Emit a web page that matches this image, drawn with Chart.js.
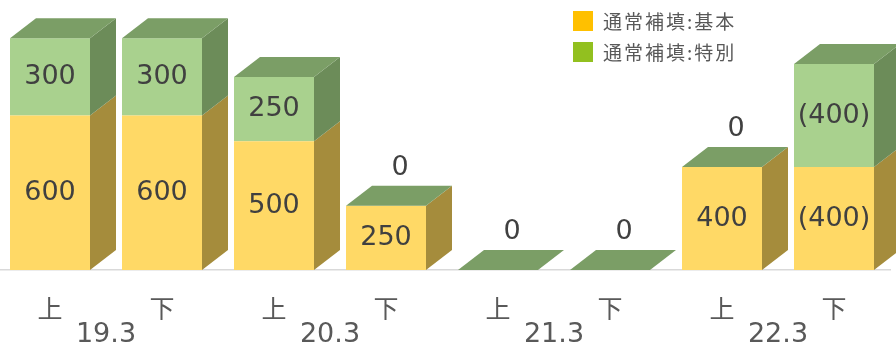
<!DOCTYPE html>
<html><head><meta charset="utf-8">
<script src="https://cdn.jsdelivr.net/npm/chart.js@4.4.0/dist/chart.umd.min.js"></script>
<style>
html,body{margin:0;padding:0;width:896px;height:347px;overflow:hidden;background:#fff;position:relative}
#wrap{position:absolute;left:-6px;top:0;width:908px;height:347px}
#legend{position:absolute;left:573px;top:5px;font-family:"Noto Sans CJK JP";font-size:19px;color:#595959;letter-spacing:2px}
.item{display:flex;align-items:center;height:31px}
.sw{width:20px;height:20px;margin-right:10px;flex:none}
</style></head><body>
<div id="wrap"><canvas id="c"></canvas></div>
<div id="legend"></div>
<script>
// ---- data ----
const periods = ['上','下','上','下','上','下','上','下'];
const years = ['19.3','20.3','21.3','22.3'];
const basicValues = [600,600,500,250,0,0,400,400];
const specialValues = [300,300,250,0,0,0,0,400];
const isProjected = [false,false,false,false,false,false,false,true];
const seriesNames = ['通常補填:基本','通常補填:特別'];
const legendColors = ['#FFC000','#92C01F'];
const frontColors = ['#FFD966','#A9D18E'];
const sideColors = ['#A58C3C','#6C8C59'];
const topColor = '#7B9E66';

const DX = 26, DY = 20;

const threeD = {
  id: 'threeD',
  afterDatasetsDraw(chart) {
    const ctx = chart.ctx;
    const metas = chart.getSortedVisibleDatasetMetas();
    ctx.save();
    metas.forEach((meta) => {
      meta.data.forEach((bar) => {
        const p = bar.getProps(['x','y','base','width'], true);
        const right = p.x + p.width / 2;
        const top = Math.min(p.y, p.base), bottom = Math.max(p.y, p.base);
        if (bottom - top > 0.5) {
          ctx.fillStyle = sideColors[meta.index];
          ctx.beginPath();
          ctx.moveTo(right, bottom);
          ctx.lineTo(right, top);
          ctx.lineTo(right + DX, top - DY);
          ctx.lineTo(right + DX, bottom - DY);
          ctx.closePath();
          ctx.fill();
        }
      });
    });
    const last = metas[metas.length - 1];
    last.data.forEach((bar) => {
      const p = bar.getProps(['x','y','base','width'], true);
      const left = p.x - p.width / 2, right = p.x + p.width / 2;
      const top = Math.min(p.y, p.base);
      ctx.fillStyle = topColor;
      ctx.beginPath();
      ctx.moveTo(left, top);
      ctx.lineTo(left + DX, top - DY);
      ctx.lineTo(right + DX, top - DY);
      ctx.lineTo(right, top);
      ctx.closePath();
      ctx.fill();
    });
    ctx.restore();
  }
};

const valueLabels = {
  id: 'valueLabels',
  afterDatasetsDraw(chart) {
    const ctx = chart.ctx;
    const metas = chart.getSortedVisibleDatasetMetas();
    const lastIdx = metas[metas.length - 1].index;
    ctx.save();
    ctx.font = '27px "DejaVu Sans"';
    ctx.fillStyle = '#404040';
    ctx.textAlign = 'center';
    ctx.textBaseline = 'middle';
    metas.forEach((meta) => {
      const vals = chart.data.datasets[meta.index].data;
      meta.data.forEach((bar, i) => {
        const v = vals[i];
        const p = bar.getProps(['x','y','base'], true);
        const txt = isProjected[i] ? '(' + v + ')' : String(v);
        if (v === 0) {
          if (meta.index === lastIdx) {
            ctx.fillText(txt, p.x + 14, Math.min(p.y, p.base) - 38);
          }
        } else {
          ctx.fillText(txt, p.x, (p.y + p.base) / 2);
        }
      });
    });
    ctx.restore();
  }
};

const chart = new Chart(document.getElementById('c'), {
  type: 'bar',
  data: {
    labels: periods,
    datasets: [
      { label: seriesNames[0], data: basicValues, backgroundColor: frontColors[0], borderWidth: 0,
        barPercentage: 80/112, categoryPercentage: 1 },
      { label: seriesNames[1], data: specialValues, backgroundColor: frontColors[1], borderWidth: 0,
        barPercentage: 80/112, categoryPercentage: 1 }
    ]
  },
  options: {
    responsive: true,
    maintainAspectRatio: false,
    animation: false,
    events: [],
    layout: { padding: { top: 12.5, left: 0, right: 12, bottom: 0 } },
    plugins: { legend: { display: false }, tooltip: { enabled: false } },
    scales: {
      x: {
        stacked: true,
        grid: { display: false, drawTicks: false },
        border: { display: true, color: '#D9D9D9', width: 1.5 },
        ticks: { color: '#595959', padding: 25.5, font: { family: '"Noto Sans CJK JP"', size: 25, lineHeight: 1 } },
        afterFit(scale) { scale.height = 50; }
      },
      x2: {
        type: 'category',
        labels: years,
        position: 'bottom',
        offset: true,
        grid: { display: false, drawTicks: false },
        border: { display: false },
        ticks: { color: '#595959', padding: 1.5, font: { family: '"DejaVu Sans"', size: 27, lineHeight: 1 } },
        afterFit(scale) { scale.height = 27; }
      },
      y: { stacked: true, display: false, min: 0, max: 1000 }
    }
  },
  plugins: [threeD, valueLabels]
});

const legendEl = document.getElementById('legend');
chart.data.datasets.forEach((ds, i) => {
  const row = document.createElement('div');
  row.className = 'item';
  const sw = document.createElement('span');
  sw.className = 'sw';
  sw.style.background = legendColors[i];
  const t = document.createElement('span');
  t.textContent = ds.label;
  row.appendChild(sw); row.appendChild(t);
  legendEl.appendChild(row);
});
</script>
</body></html>
